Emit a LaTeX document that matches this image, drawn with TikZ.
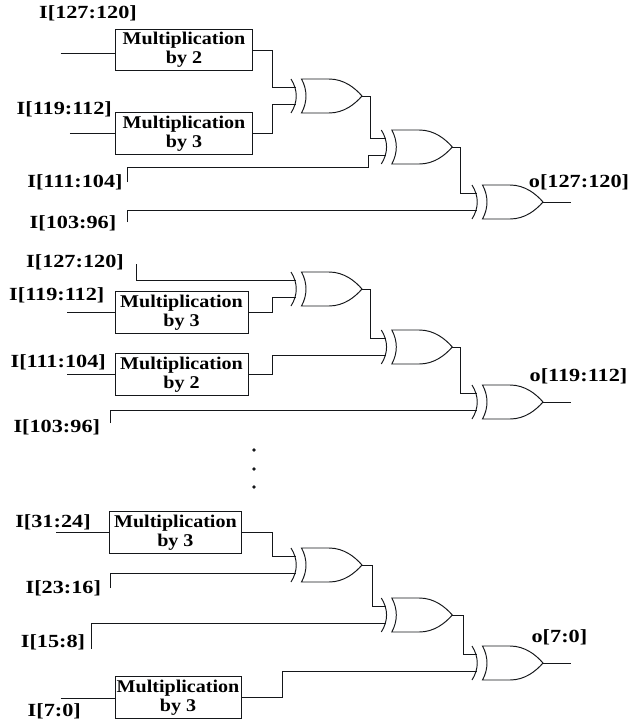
\documentclass[tikz,border=0pt]{standalone}
\usepackage{fontspec}
\setmainfont{Liberation Serif}
\newfontfamily\boxfont[FakeStretch=1.12]{Liberation Serif}
\newfontfamily\lblfont[FakeStretch=1.2]{Liberation Serif}
\usepackage{xcolor}
\definecolor{ink}{HTML}{15171A}

\begin{document}
\begin{tikzpicture}[
  x=0.2mm, y=-0.2mm,
  wire/.style={draw=ink, line width=0.55pt},
  mulbox/.style={draw=ink, line width=0.55pt, fill=white, align=center, inner sep=0pt, minimum height=23.5pt, font=\boxfont\fontsize{10.2}{10.6}\selectfont\bfseries},
  lbl/.style={font=\lblfont\fontsize{10.55}{12}\selectfont\bfseries, inner sep=0pt},
  xorgate/.pic={
    \draw[wire] (-71,-17) .. controls (-64,-6) and (-64,6) .. (-71,17);
    \draw[wire] (-60.5,-17) .. controls (-54.5,-6) and (-54.5,6) .. (-60.5,17)
      -- (-33,17) .. controls (-18,17) and (-7,8) .. (0,0)
      .. controls (-7,-8) and (-18,-17) .. (-33,-17) -- cycle;
    \coordinate (-in1) at (-65.9,-8.5);
    \coordinate (-in2) at (-65.9,8.5);
    \coordinate (-out) at (0,0);
  }
]
\useasboundingbox (0,0) rectangle (641,724);

% xor gates, placed by their nose
\foreach \name/\x/\y in {
  g1/362/96, g2/452.3/147, g3/543/202,
  h1/362/289, h2/452.3/347, h3/543/402,
  k1/362/565, k2/452.3/615, k3/543/663
}{
  \pic (\name) at (\x,\y) {xorgate};
}

% multiplier boxes
\node[mulbox, minimum width=77.7pt] (m1) at (184,50) {Multiplication\\by 2};
\node[mulbox, minimum width=77.7pt] (m2) at (184,133.5) {Multiplication\\by 3};
\node[mulbox, minimum width=75.7pt] (m3) at (181.5,312.5) {Multiplication\\by 3};
\node[mulbox, minimum width=75.7pt] (m4) at (181.5,374.5) {Multiplication\\by 2};
\node[mulbox, minimum width=75.1pt] (m5) at (175.4,532.5) {Multiplication\\by 3};
\node[mulbox, minimum width=71.7pt] (m6) at (178,697.5) {Multiplication\\by 3};

% free ends
\foreach \name/\x/\y in {
  a1/60.5/53, a2/69.8/133, a3/127.8/182, a4/127.8/222,
  b1/136.8/264, b2/67/312, b3/67/374, b4/110.2/423,
  c1/56/532, c2/110.2/588, c3/91.9/649, c4/60.5/698,
  q1/571/202, q2/571/402, q3/571/663
}{
  \coordinate (\name) at (\x,\y);
}

% first block
\draw[wire] (a1) -- (a1 -| m1.west);
\draw[wire] (a2) -- (a2 -| m2.west);
\draw[wire] (m1.east) -- (272,50) |- (g1-in1);
\draw[wire] (m2.east) -- (272,133.5) |- (g1-in2);
\draw[wire] (g1-out) -- (370,96) |- (g2-in1);
\draw[wire] (a3) |- (368,167) |- (g2-in2);
\draw[wire] (g2-out) -- (460.5,147) |- (g3-in1);
\draw[wire] (a4) |- (g3-in2);
\draw[wire] (g3-out) -- (q1);

% second block
\draw[wire] (b1) |- (h1-in1);
\draw[wire] (b2) -- (b2 -| m3.west);
\draw[wire] (m3.east) -- (272,312.5) |- (h1-in2);
\draw[wire] (b3) -- (b3 -| m4.west);
\draw[wire] (m4.east) -- (272,374.5) |- (h2-in2);
\draw[wire] (h1-out) -- (370,289) |- (h2-in1);
\draw[wire] (h2-out) -- (460.5,347) |- (h3-in1);
\draw[wire] (b4) |- (h3-in2);
\draw[wire] (h3-out) -- (q2);

% last block
\draw[wire] (c1) -- (c1 -| m5.west);
\draw[wire] (m5.east) -- (272,532.5) |- (k1-in1);
\draw[wire] (c2) |- (k1-in2);
\draw[wire] (k1-out) -- (372,565) |- (k2-in1);
\draw[wire] (c3) |- (k2-in2);
\draw[wire] (k2-out) -- (463,615) |- (k3-in1);
\draw[wire] (c4) -- (c4 -| m6.west);
\draw[wire] (m6.east) -- (282,697.5) |- (k3-in2);
\draw[wire] (k3-out) -- (q3);

% labels
\foreach \name/\x/\y/\txt in {
  l1/88/13/{I[127:120]}, l2/64.3/109/{I[119:112]}, l3/75/182/{I[111:104]}, l4/73/223/{I[103:96]},
  l5/579/182/{o[127:120]},
  l6/75/262/{I[127:120]}, l7/56.8/295/{I[119:112]}, l8/58.2/362/{I[111:104]}, l9/56.8/427/{I[103:96]},
  l10/578.5/376/{o[119:112]},
  l11/53/522/{I[31:24]}, l12/63.3/588/{I[23:16]}, l13/53/642/{I[15:8]}, l14/54.3/711/{I[7:0]},
  l15/559.4/637/{o[7:0]}
}{
  \node[lbl] (\name) at (\x,\y) {\txt};
}

% dots
\foreach \name/\y in {d1/450, d2/469, d3/487}{
  \node[circle, fill=ink, inner sep=0.75pt] (\name) at (254,\y) {};
}
\end{tikzpicture}
\end{document}
